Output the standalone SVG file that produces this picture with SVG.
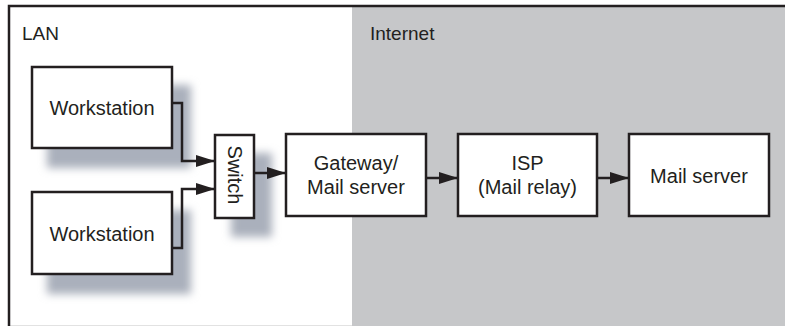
<svg xmlns="http://www.w3.org/2000/svg" width="785" height="326" viewBox="0 0 785 326">
<style>
.box{fill:#fff;stroke:#231f20;stroke-width:2.5}
.sh{fill:#aab0bc;filter:url(#blur)}
.t{font-family:"Liberation Sans",Arial,sans-serif;font-size:20px;fill:#231f20;text-anchor:middle}
.lbl{font-family:"Liberation Sans",Arial,sans-serif;font-size:19px;fill:#231f20}
.c{fill:none;stroke:#231f20;stroke-width:2.5;marker-end:url(#ah)}
</style>
<defs>
<filter id="blur" x="-30%" y="-30%" width="160%" height="160%"><feGaussianBlur stdDeviation="4"/></filter>
<marker id="ah" markerUnits="userSpaceOnUse" markerWidth="19" markerHeight="12" refX="19" refY="6" orient="auto"><path d="M0,0 L19,6 L0,12 z" fill="#231f20"/></marker>
</defs>
<rect x="0" y="0" width="785" height="326" fill="#fff"/>
<rect x="352" y="6" width="433" height="320" fill="#c6c7c9"/>
<line x1="8" y1="325.5" x2="352" y2="325.5" stroke="#e2e2e2" stroke-width="1"/>
<path d="M9,326 V6 H785" fill="none" stroke="#231f20" stroke-width="2.5"/>
<text class="lbl" x="22" y="40">LAN</text>
<text class="lbl" x="370" y="40">Internet</text>
<g id="shadows">
<rect class="sh" x="47" y="85" width="144" height="83"/>
<rect class="sh" x="47" y="210" width="144" height="84"/>
<rect class="sh" x="231" y="153" width="41" height="84"/>
</g>
<g id="connectors">
<path class="c" d="M172,103 H182 V161 H215"/>
<path class="c" d="M172,248 H182 V189 H215"/>
<path class="c" d="M254,173 H286"/>
<path class="c" d="M426,178 H458"/>
<path class="c" d="M597,178 H629"/>
</g>
<g id="ws1"><rect class="box" x="32" y="67" width="140" height="81"/><text class="t" x="102" y="115">Workstation</text></g>
<g id="ws2"><rect class="box" x="32" y="192" width="140" height="82"/><text class="t" x="102" y="241">Workstation</text></g>
<g id="switch"><rect class="box" x="215" y="135" width="39" height="83"/><text class="t" font-size="19" transform="translate(234.5,175) rotate(90)" y="7">Switch</text></g>
<g id="gateway"><rect class="box" x="286" y="134" width="140" height="82"/><text class="t" x="356" y="170">Gateway/</text><text class="t" x="356" y="194">Mail server</text></g>
<g id="isp"><rect class="box" x="458" y="134" width="139" height="82"/><text class="t" x="527.5" y="170">ISP</text><text class="t" x="527.5" y="194">(Mail relay)</text></g>
<g id="mailserver"><rect class="box" x="629" y="134" width="140" height="82"/><text class="t" x="699" y="183">Mail server</text></g>
</svg>
